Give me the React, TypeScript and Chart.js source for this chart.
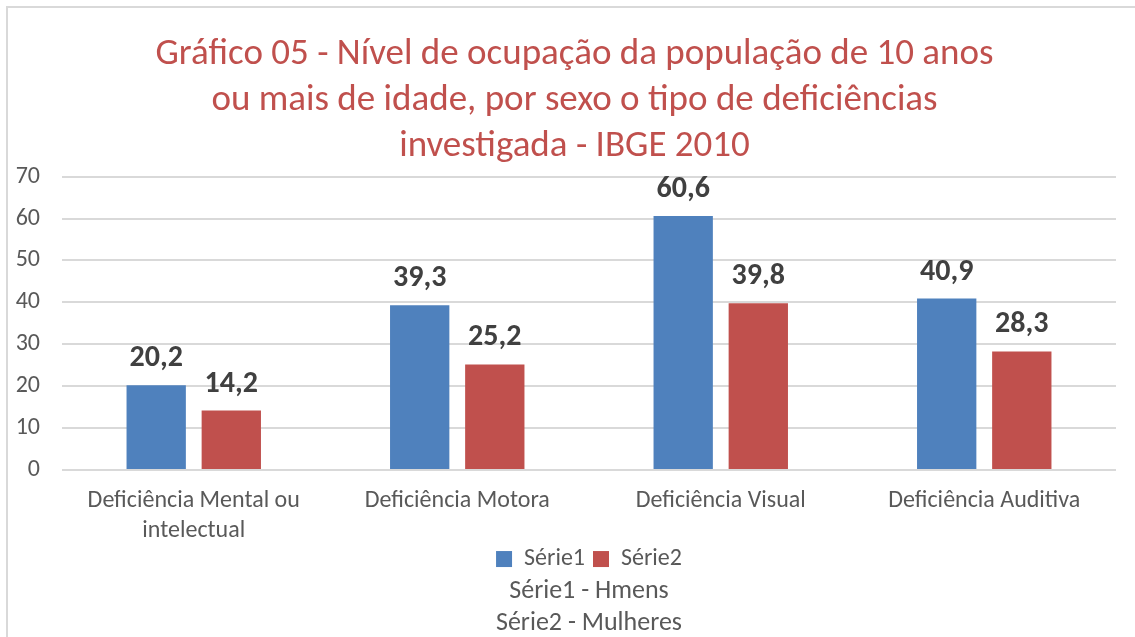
import React, { useEffect, useRef } from "react";
import { Chart, registerables } from "chart.js";

Chart.register(...registerables);

const categories: (string | string[])[] = [
  ["Deficiência Mental ou", "intelectual"],
  "Deficiência Motora",
  "Deficiência Visual",
  "Deficiência Auditiva",
];
const serie1: number[] = [20.2, 39.3, 60.6, 40.9];
const serie2: number[] = [14.2, 25.2, 39.8, 28.3];
const seriesNames: string[] = ["Série1", "Série2"];
const titleLines: string[] = [
  "Gráfico 05 - Nível de ocupação da população de 10 anos",
  "ou mais de idade, por sexo o tipo de deficiências",
  "investigada - IBGE 2010",
];
const subtitleLines: string[] = ["Série1 - Hmens", "Série2 - Mulheres"];

const FONT = 'Calibri, Carlito, "Open Sans", sans-serif';

const dataLabels = {
  id: "dataLabels",
  afterDatasetsDraw(chart: any) {
    const ctx = chart.ctx;
    ctx.save();
    ctx.font = `bold 30px ${FONT}`;
    ctx.fillStyle = "#404040";
    ctx.textAlign = "center";
    ctx.textBaseline = "alphabetic";
    chart.data.datasets.forEach((ds: any, i: number) => {
      const meta = chart.getDatasetMeta(i);
      meta.data.forEach((bar: any, j: number) => {
        const v = ds.data[j] as number;
        ctx.fillText(v.toFixed(1).replace(".", ","), bar.x, bar.y - 19);
      });
    });
    ctx.restore();
  },
};

const shiftTitle = {
  id: "shiftTitle",
  afterLayout(chart: any) {
    const t = chart.titleBlock;
    if (t) {
      t.left += 9;
      t.right += 9;
    }
  },
};

export default function App() {
  const ref = useRef<HTMLCanvasElement>(null);
  useEffect(() => {
    if (!ref.current) return;
    const chart = new Chart(ref.current, {
      type: "bar",
      data: {
        labels: categories,
        datasets: [
          {
            label: seriesNames[0],
            data: serie1,
            backgroundColor: "#4F81BD",
            categoryPercentage: 0.57,
            barPercentage: 0.79,
          },
          {
            label: seriesNames[1],
            data: serie2,
            backgroundColor: "#C0504D",
            categoryPercentage: 0.57,
            barPercentage: 0.79,
          },
        ],
      },
      options: {
        responsive: false,
        animation: false,
        layout: { padding: { left: 15, right: 19, top: 0, bottom: 0 } },
        plugins: {
          title: {
            display: true,
            text: titleLines,
            color: "#C0504D",
            font: { family: FONT, size: 37, weight: "normal", lineHeight: 1.24 },
            padding: { top: 32, bottom: 7 },
          },
          subtitle: {
            display: true,
            position: "bottom",
            fullSize: false,
            text: subtitleLines,
            color: "#595959",
            font: { family: FONT, size: 26, weight: "normal", lineHeight: 1.23 },
            padding: { top: -6, bottom: -2 },
          },
          legend: {
            position: "bottom",
            fullSize: false,
            labels: {
              color: "#595959",
              font: { family: FONT, size: 24 },
              boxWidth: 16,
              boxHeight: 16,
              padding: 8,
            },
          },
          tooltip: { enabled: false },
        },
        scales: {
          x: {
            grid: { display: false, drawTicks: false },
            border: { display: false },
            ticks: {
              color: "#595959",
              font: { family: FONT, size: 24, lineHeight: 1.25 },
              padding: 16,
              maxRotation: 0,
              autoSkip: false,
            },
            afterFit: (s: any) => {
              s.paddingLeft = 0;
              s.paddingRight = 0;
              s.height = s.height - 23;
            },
          },
          y: {
            min: 0,
            max: 70,
            grid: { color: "#d9d9d9", lineWidth: 2, drawTicks: false },
            border: { display: false },
            ticks: {
              stepSize: 10,
              color: "#595959",
              font: { family: FONT, size: 24 },
              padding: 22,
            },
            afterFit: (s: any) => {
              s.width = 47;
            },
          },
        },
      },
      plugins: [dataLabels, shiftTitle],
    });
    return () => chart.destroy();
  }, []);

  return (
    <div style={{ position: "fixed", left: 0, top: 0, width: 1135, height: 637, overflow: "hidden", background: "#fff" }}>
      <div
        style={{
          position: "absolute",
          left: 6,
          top: 6,
          width: 1300,
          height: 800,
          border: "2px solid #d9d9d9",
          boxSizing: "border-box",
        }}
      />
      <canvas ref={ref} width={1135} height={637} style={{ position: "absolute", left: 0, top: 0 }} />
    </div>
  );
}
